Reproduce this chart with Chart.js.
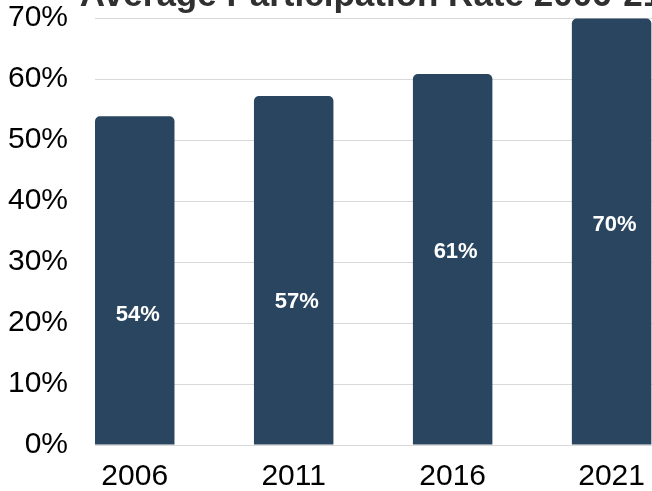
<!DOCTYPE html>
<html>
<head>
<meta charset="utf-8">
<script src="https://cdn.jsdelivr.net/npm/chart.js@4/dist/chart.umd.min.js"></script>
<style>
    html, body { margin: 0; padding: 0; background: #fff; overflow: hidden; width: 652px; height: 491px; }
    #wrap { position: relative; width: 652px; height: 491px; overflow: hidden; }
    #rateChart { position: absolute; left: 0; top: -27px; }
</style>
</head>
<body>
<div id="wrap"><canvas id="rateChart" width="742" height="518"></canvas></div>
<script>
// Data
const categories = ['2006', '2011', '2016', '2021'];
const rates = [53.9, 57.2, 60.8, 69.9];
const yTicks = [0, 10, 20, 30, 40, 50, 60, 70];
// where each in-bar label sits, in % units of the y axis
const labelAt = [21.4, 23.4, 31.6, 36.0];

const FONT = "'Liberation Sans', Arial, sans-serif";
const BAR_COLOR = '#29455f';

// Draws the white % labels inside the bars
const barLabels = {
    id: 'barLabels',
    afterDatasetsDraw(chart) {
        const ctx = chart.ctx;
        const meta = chart.getDatasetMeta(0);
        const yScale = chart.scales.y;
        ctx.save();
        ctx.fillStyle = '#ffffff';
        ctx.font = 'bold 22px ' + FONT;
        ctx.textAlign = 'center';
        ctx.textBaseline = 'middle';
        meta.data.forEach((bar, i) => {
            ctx.fillText(Math.round(rates[i]) + '%', bar.x + 3, yScale.getPixelForValue(labelAt[i]));
        });
        ctx.restore();
    }
};

document.addEventListener('DOMContentLoaded', function() {
    const ctx = document.getElementById('rateChart').getContext('2d');

    new Chart(ctx, {
        type: 'bar',
        data: {
            datasets: [{
                data: rates.map((v, i) => ({ x: i, y: v })),
                backgroundColor: BAR_COLOR,
                borderRadius: 5,
                borderSkipped: 'bottom',
                categoryPercentage: 1,
                barPercentage: 0.5
            }]
        },
        options: {
            responsive: false,
            animation: false,
            devicePixelRatio: 1,
            layout: {
                padding: { left: 8, right: 8, top: 0, bottom: 0 }
            },
            scales: {
                x: {
                    type: 'linear',
                    offset: false,
                    min: -0.25,
                    max: 3.77, // plot runs on past the cropped right edge
                    afterBuildTicks: (axis) => {
                        axis.ticks = categories.map((c, i) => ({ value: i }));
                    },
                    afterFit: (axis) => { axis.height = 46; },
                    grid: { display: false, drawTicks: false, offset: false },
                    border: { display: false },
                    ticks: {
                        autoSkip: false,
                        maxRotation: 0,
                        padding: 14,
                        color: '#000',
                        font: { size: 30, family: FONT },
                        callback: (v) => categories[v]
                    }
                },
                y: {
                    min: 0,
                    max: 70,
                    afterBuildTicks: (axis) => {
                        axis.ticks = yTicks.map(v => ({ value: v }));
                    },
                    afterFit: (axis) => { axis.width = 87; },
                    grid: { color: '#d9d9d9', lineWidth: 1, drawTicks: false },
                    border: { display: false },
                    ticks: {
                        padding: 27,
                        color: '#000',
                        font: { size: 30, family: FONT },
                        callback: (v) => v + '%'
                    }
                }
            },
            plugins: {
                legend: { display: false },
                tooltip: { enabled: false },
                title: {
                    display: true,
                    text: 'Average Participation Rate 2006-21',
                    color: '#303030',
                    padding: { top: 0, bottom: 4 },
                    font: { size: 35, weight: 'bold', family: FONT, lineHeight: 1 }
                }
            }
        },
        plugins: [barLabels]
    });
});
</script>
</body>
</html>
